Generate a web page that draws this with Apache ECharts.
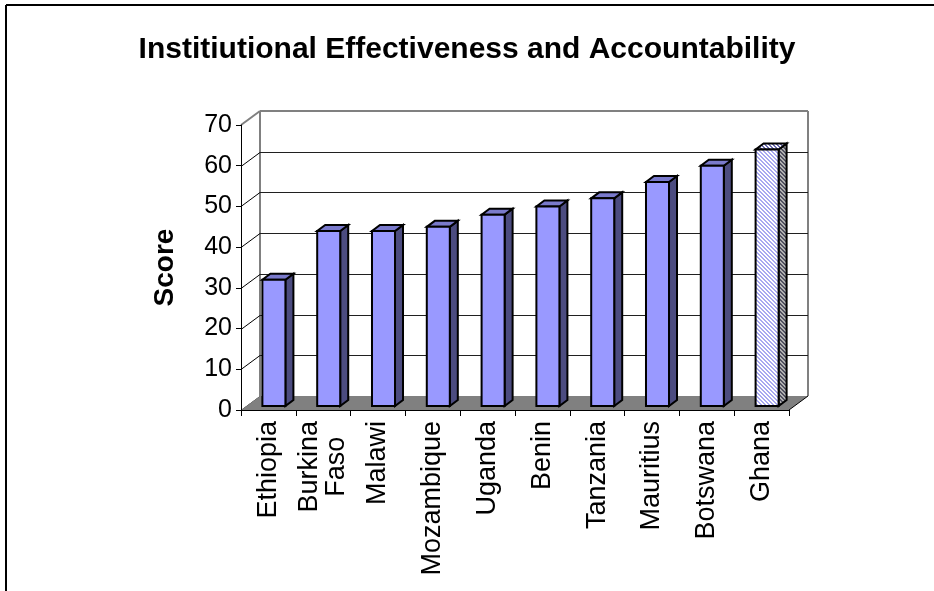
<!DOCTYPE html>
<html>
<head>
<meta charset="utf-8">
<script src="https://cdn.jsdelivr.net/npm/echarts@6/dist/echarts.min.js"></script>
<style>
  html, body { margin: 0; padding: 0; background: #ffffff; }
  #chart { width: 934px; height: 591px; }
</style>
</head>
<body>
<div id="chart"></div>
<script>
// Country scores
const categories = ['Ethiopia', 'Burkina Faso', 'Malawi', 'Mozambique', 'Uganda', 'Benin', 'Tanzania', 'Mauritius', 'Botswana', 'Ghana'];
const scores = [31, 43, 43, 44, 47, 49, 51, 55, 59, 63];
const yTicks = [0, 10, 20, 30, 40, 50, 60, 70];
const featured = 'Ghana';

const FONT = 'Liberation Sans, Arial, Helvetica, sans-serif';

// Depth of the 3D box (floor/back wall offset) and of each column
const DX = 19, DY = -14;
const FACE_DX = 5.5, FACE_DY = -4;
const BAR_DX = 8, BAR_DY = -6;

function hatch(bg, fg) {
  const c = document.createElement('canvas');
  c.width = 4; c.height = 4;
  const g = c.getContext('2d');
  g.fillStyle = bg; g.fillRect(0, 0, 4, 4);
  g.fillStyle = fg;
  for (let k = 0; k < 4; k++) { g.fillRect(k, k, 1, 1); g.fillRect((k + 1) % 4, k, 1, 1); }
  return { image: c, repeat: 'repeat' };
}

const plainFill = { front: '#9999FF', side: '#4C4C80', top: '#7A7ACC' };
const featuredFill = {
  front: hatch('#FFFFFF', '#A8A8F0'),
  side: hatch('#B0B0B0', '#505060'),
  top: hatch('#FFFFFF', '#6A6AB0')
};

function poly(points, fill, stroke, lw) {
  return { type: 'polygon', shape: { points: points }, style: { fill: fill, stroke: stroke || null, lineWidth: lw || 0 } };
}
function line(x1, y1, x2, y2, stroke, lw) {
  return { type: 'line', shape: { x1: x1, y1: y1, x2: x2, y2: y2 }, style: { stroke: stroke, lineWidth: lw } };
}

// Side wall and back wall with their grey frame
function renderWalls(params, api) {
  const cs = params.coordSys;
  const x0 = cs.x, x1 = cs.x + cs.width;
  const yTop = api.coord([0, yTicks[yTicks.length - 1]])[1];
  const yBot = api.coord([0, 0])[1];
  return {
    type: 'group',
    children: [
      poly([[x0, yTop], [x0 + DX, yTop + DY], [x0 + DX, yBot + DY], [x0, yBot]], '#FFFFFF'),
      poly([[x0 + DX, yTop + DY], [x1 + DX, yTop + DY], [x1 + DX, yBot + DY], [x0 + DX, yBot + DY]], '#FFFFFF'),
      line(x0 + DX, yTop + DY, x1 + DX, yTop + DY, '#808080', 2),
      line(x0 + DX, yTop + DY, x0 + DX, yBot + DY, '#808080', 2),
      line(x1 + DX, yTop + DY, x1 + DX, yBot + DY, '#808080', 2),
      line(x0, yTop, x0 + DX, yTop + DY, '#808080', 2)
    ]
  };
}

// Grid lines on the back wall and the slanted ones on the side wall
function renderGridLines(params, api) {
  const cs = params.coordSys;
  const v = api.value(1);
  const x0 = cs.x, x1 = cs.x + cs.width;
  const y = Math.round(api.coord([0, v])[1]) + 0.5;
  const children = [];
  const isTop = v === yTicks[yTicks.length - 1];
  if (!isTop) {
    children.push(line(x0, y, x0 + DX, y + DY, '#000000', 1));
    if (v !== 0) children.push(line(x0 + DX, y + DY, x1 + DX, y + DY, '#202020', 1));
  }
  return { type: 'group', children: children };
}

// Grey floor
function renderFloor(params, api) {
  const cs = params.coordSys;
  const x0 = cs.x, x1 = cs.x + cs.width;
  const y = api.coord([0, 0])[1];
  return {
    type: 'group',
    children: [
      poly([[x0, y], [x1, y], [x1 + DX, y + DY], [x0 + DX, y + DY]], '#808080'),
      line(x1, y, x1 + DX, y + DY, '#000000', 1)
    ]
  };
}

// 3D columns
function renderBar(params, api) {
  const i = api.value(0);
  const v = api.value(1);
  const top = api.coord([i, v]);
  const base = api.coord([i, 0]);
  const band = api.size([1, 0])[0];
  const w = band * 0.42;
  const xl = top[0] + FACE_DX - w / 2, xr = xl + w;
  const yt = top[1] + FACE_DY, yb = base[1] + FACE_DY;
  const fill = categories[i] === featured ? featuredFill : plainFill;
  const edge = '#000000', lw = 2;
  return {
    type: 'group',
    children: [
      poly([[xr, yt], [xr + BAR_DX, yt + BAR_DY], [xr + BAR_DX, yb + BAR_DY], [xr, yb]], fill.side, edge, lw),
      poly([[xl, yt], [xr, yt], [xr + BAR_DX, yt + BAR_DY], [xl + BAR_DX, yt + BAR_DY]], fill.top, edge, lw),
      poly([[xl, yt], [xr, yt], [xr, yb], [xl, yb]], fill.front, edge, lw)
    ]
  };
}

const chart = echarts.init(document.getElementById('chart'), null, { renderer: 'canvas' });

chart.setOption({
  animation: false,
  backgroundColor: '#FFFFFF',
  title: {
    text: 'Institiutional Effectiveness and Accountability',
    left: 'center',
    top: 30,
    textStyle: { fontFamily: FONT, fontSize: 30, fontWeight: 'bold', color: '#000000' }
  },
  graphic: [
    { type: 'line', shape: { x1: 6, y1: 5, x2: 934, y2: 5 }, style: { stroke: '#000000', lineWidth: 2 } },
    { type: 'line', shape: { x1: 6, y1: 5, x2: 6, y2: 591 }, style: { stroke: '#000000', lineWidth: 2 } }
  ],
  grid: { left: 241, top: 125, width: 548, height: 285 },
  xAxis: {
    type: 'category',
    data: categories,
    z: 6,
    boundaryGap: true,
    axisLine: { show: true, lineStyle: { color: '#000000', width: 1 } },
    axisTick: { show: true, length: 6, lineStyle: { color: '#000000' } },
    axisLabel: {
      rotate: 90,
      interval: 0,
      margin: 11,
      fontFamily: FONT,
      fontSize: 27,
      color: '#000000',
      formatter: function (name) {
        const parts = name.split(' ');
        if (name === 'Burkina Faso') return parts.map(p => '{c|' + p + '}').join('\n');
        return name;
      },
      rich: { c: { align: 'center', fontFamily: FONT, fontSize: 27, color: '#000000' } }
    },
    splitLine: { show: false }
  },
  yAxis: {
    type: 'value',
    min: 0,
    max: 70,
    interval: 10,
    z: 6,
    name: 'Score',
    nameLocation: 'middle',
    nameRotate: 90,
    nameGap: 62,
    nameTextStyle: { fontFamily: FONT, fontSize: 28, fontWeight: 'bold', color: '#000000' },
    axisLine: { show: true, lineStyle: { color: '#000000', width: 1 } },
    axisTick: { show: true, length: 5, lineStyle: { color: '#000000' } },
    axisLabel: { margin: 9, fontFamily: FONT, fontSize: 25, color: '#000000' },
    splitLine: { show: false }
  },
  series: [
    { type: 'custom', name: 'walls', z: 1, clip: false, silent: true, renderItem: renderWalls, data: [[0, 70]] },
    { type: 'custom', name: 'gridlines', z: 2, clip: false, silent: true, renderItem: renderGridLines, data: yTicks.map(v => [0, v]) },
    { type: 'custom', name: 'floor', z: 3, clip: false, silent: true, renderItem: renderFloor, data: [[0, 0]] },
    { type: 'custom', name: 'Score', z: 4, clip: false, renderItem: renderBar, data: scores.map((v, i) => [i, v]) }
  ]
});
</script>
</body>
</html>
